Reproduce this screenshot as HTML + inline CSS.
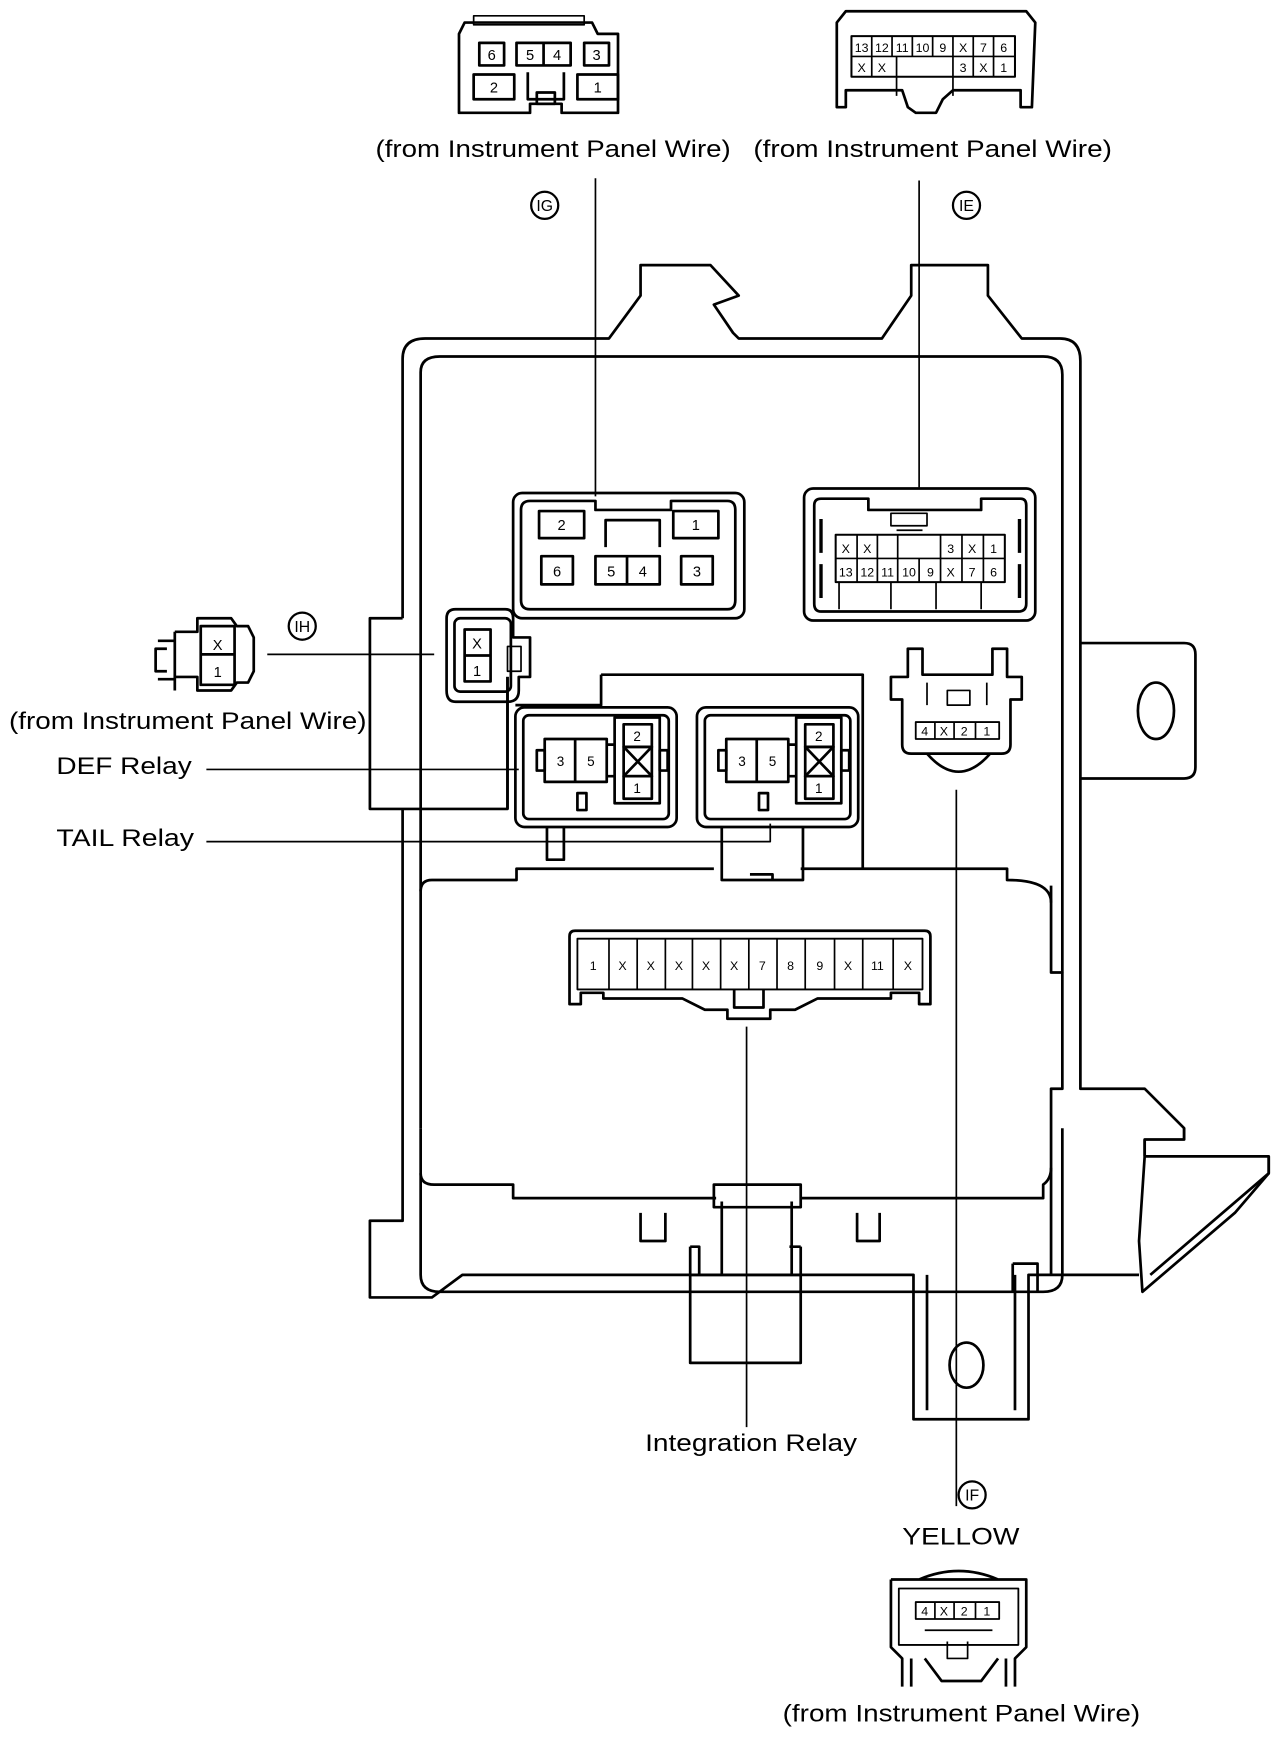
<!DOCTYPE html>
<html><head><meta charset="utf-8"><style>html,body{margin:0;padding:0;background:#fff}svg{display:block}</style></head>
<body>
<svg width="1280" height="1760" viewBox="0 0 1135 1560" preserveAspectRatio="none" xmlns="http://www.w3.org/2000/svg" font-family="Liberation Sans, Arial, sans-serif">
<g fill="none" stroke="#000" stroke-width="2.4" stroke-linejoin="round">
<path d="M407,30 L412,20 L525,20 L530,30 L548,30 L548,100 L498,100 L498,92 L470,92 L470,100 L407,100 Z"/>
<rect x="420" y="14" width="98" height="8" stroke-width="1.5"/>
<rect x="425" y="38" width="22" height="20"/><rect x="458" y="38" width="48" height="20"/><line x1="482" y1="38" x2="482" y2="58"/>
<rect x="518" y="38" width="22" height="20"/>
<rect x="420" y="66" width="36" height="22"/><rect x="512" y="66" width="36" height="22"/>
<path d="M468,64 V88 H500 V64"/><rect x="476" y="82" width="16" height="10"/>
<path d="M742,20 L742,95 L750,95 L750,80 L800,80 L805,95 L812,100 L830,100 L836,88 L845,80 L905,80 L905,95 L915,95 L918,20 L910,10 L750,10 Z"/>
<rect x="755" y="32" width="145" height="36" stroke-width="1.8"/>
<line x1="755" y1="50" x2="900" y2="50" stroke-width="1.5"/>
<path d="M773,32V68 M791,32V50 M809,32V50 M827,32V50 M845,32V50 M863,32V68 M881,32V68" stroke-width="1.5"/>
<path d="M795,50 V85 M845,50 V85" stroke-width="1.5"/>
<line x1="528" y1="158" x2="528" y2="440" stroke-width="1.5"/>
<line x1="815" y1="160" x2="815" y2="432" stroke-width="1.5"/>
<circle cx="483" cy="182" r="12" stroke-width="2"/><circle cx="857" cy="182" r="12" stroke-width="2"/>
<path d="M357,548 L357,318 Q357,300 377,300 L540,300 L568,262 L568,235 L630,235 L655,262 L633,270 L650,295 L655,300 L782,300 L808,262 L808,235 L876,235 L876,262 L906,300 L940,300 Q958,300 958,320 L958,965 L1015,965 L1050,1000 L1050,1010 L1015,1010 L1015,1025 L1125,1025 L1125,1040 L1095,1075 L1013,1145 L1010,1100 L1015,1025"/>
<path d="M1015,1010 V1025 M1125,1025 V1040 L1020,1130 M1050,1000 V1010"/>
<path d="M958,570 H1050 Q1060,570 1060,580 V680 Q1060,690 1050,690 H958"/>
<ellipse cx="1025" cy="630" rx="16" ry="25"/>
<path d="M357,548 H328 V717 H450 V600"/>
<path d="M357,717 V1082 H328 V1150 H383 L410,1130 H810 V1258 H912 V1130 H1010"/>
<path d="M822,1130 V1250 M900,1130 V1250"/>
<ellipse cx="857" cy="1210" rx="15" ry="20"/>
<path d="M373,1000 V330 Q373,316 390,316 H925 Q942,316 942,332 V862 H932 V785"/>
<path d="M373,1000 V1130 Q373,1145 390,1145 H925 Q942,1145 942,1130 V1000 M942,862 V965 H932 V1130"/>
<path d="M373,790 Q373,780 383,780 H458 V770 H633 M710,770 H893 V780 Q932,780 932,800"/>
<path d="M373,1040 Q373,1050 385,1050 H455 V1062 H635 M710,1062 H925 V1050 Q932,1045 932,1035"/>
<path d="M568,1075 V1100 H590 V1075 M760,1075 V1100 H780 V1075 M898,1120 H920 V1145 M898,1120 V1145"/>
<rect x="633" y="1050" width="77" height="20"/>
<path d="M640,1065 V1130 M702,1065 V1130 M612,1105 V1208 H710 V1105 M612,1130 H710 M612,1105 H620 V1130 M700,1105 H710"/>
<rect x="455" y="437" width="205" height="111" rx="8"/>
<path d="M462,452 Q462,444 470,444 H528 V452 H595 V444 H645 Q652,444 652,452 V532 Q652,540 645,540 H470 Q462,540 462,532 Z"/>
<rect x="478" y="453" width="40" height="24"/><rect x="597" y="453" width="40" height="24"/>
<path d="M537,485 V461 H585 V485"/>
<rect x="480" y="493" width="28" height="25"/><rect x="528" y="493" width="57" height="25"/><line x1="556" y1="493" x2="556" y2="518"/>
<rect x="604" y="493" width="28" height="25"/>
<rect x="713" y="433" width="205" height="117" rx="8"/>
<path d="M722,448 Q722,442 728,442 H770 V452 H870 V442 H905 Q910,442 910,448 V535 Q910,542 903,542 H728 Q722,542 722,535 Z"/>
<rect x="741" y="474" width="150" height="42" stroke-width="1.8"/>
<line x1="741" y1="495" x2="891" y2="495" stroke-width="1.5"/>
<path d="M760,474V516 M778,474V516 M796,495V516 M815,495V516 M834,495V516 M853,474V516 M872,474V516 M796,474V495 M834,474V495" stroke-width="1.5"/>
<path d="M790,455 H822 V466 H790 Z M795,470 H818" stroke-width="1.5"/>
<path d="M728,460 V490 M904,460 V490 M728,500 V530 M904,500 V530" stroke-width="3"/>
<path d="M744,516 V540 M790,516 V540 M830,516 V540 M870,516 V540" stroke-width="1.5"/>
<path d="M396,548 Q396,540 404,540 H448 Q455,540 455,548 V565 H470 V600 H460 V612 Q460,622 450,622 H404 Q396,622 396,612 Z"/>
<rect x="403" y="548" width="50" height="65" rx="5"/>
<rect x="412" y="558" width="23" height="46"/><line x1="412" y1="581" x2="435" y2="581"/>
<rect x="450" y="573" width="12" height="22" stroke-width="1.5"/>
<path d="M148,575 H138 V595 H148 M155,568 H140 M155,602 H140 M155,560 V612 M155,560 H175 V548 H205 L210,555 H220 L225,565 V595 L220,605 H210 L205,612 H175 V600 H155"/>
<rect x="178" y="555" width="30" height="52"/><line x1="178" y1="580" x2="208" y2="580"/>
<line x1="237" y1="580" x2="385" y2="580" stroke-width="1.5"/>
<circle cx="268" cy="555" r="12" stroke-width="2"/>
<path d="M450,600 V717 M533,598 H765 V770 M533,598 V625 H457"/>
<g id="relay">
<rect x="457" y="627" width="143" height="106" rx="8"/>
<rect x="464" y="634" width="129" height="92" rx="5"/>
<rect x="483" y="655" width="55" height="38"/><line x1="510" y1="655" x2="510" y2="693"/>
<rect x="476" y="665" width="7" height="18"/><rect x="585" y="665" width="7" height="18"/>
<path d="M538,660 H545 M538,688 H545"/>
<rect x="545" y="636" width="40" height="76"/><rect x="553" y="642" width="25" height="20"/><rect x="553" y="688" width="25" height="20"/>
<rect x="553" y="662" width="25" height="26"/>
<path d="M553,662 L578,688 M578,662 L553,688"/>
<rect x="512" y="703" width="8" height="15"/>
</g>
<use href="#relay" transform="translate(161,0)"/>
<path d="M485,733 V762 H500 V733 M640,733 V780 H712 V733 M665,775 H685 V780"/>
<line x1="183" y1="682" x2="460" y2="682" stroke-width="1.5"/>
<path d="M183,746 H683 V730" stroke-width="1.5"/>
<path d="M805,575 H818 V598 H880 V575 H893 V600 H906 V620 H896 V660 Q896,668 888,668 H808 Q800,668 800,660 V620 H790 V600 H805 Z"/>
<path d="M822,668 Q850,700 878,668"/>
<rect x="812" y="640" width="74" height="15" stroke-width="1.6"/>
<path d="M829,640V655 M846,640V655 M865,640V655" stroke-width="1.5"/>
<path d="M840,612 H860 V625 H840 Z M822,605 V625 M875,605 V625" stroke-width="1.5"/>
<line x1="848" y1="700" x2="848" y2="1335" stroke-width="1.5"/>
<circle cx="862" cy="1325" r="12" stroke-width="2"/>
<path d="M505,830 Q505,825 510,825 H820 Q825,825 825,830 V890 H815 V880 H790 V885 H725 L705,895 H683 V903 H645 V895 H625 L605,885 H535 V880 H515 V890 H505 Z"/>
<rect x="512" y="832" width="306" height="45" stroke-width="1.6"/>
<path d="M540,832V877 M565,832V877 M590,832V877 M614,832V877 M639,832V877 M664,832V877 M689,832V877 M714,832V877 M740,832V877 M765,832V877 M792,832V877" stroke-width="1.5"/>
<path d="M651,877 V893 H677 V877"/>
<line x1="662" y1="910" x2="662" y2="1265" stroke-width="1.5"/>
<path d="M815,1400 Q850,1385 885,1400 M790,1400 H910 V1460 L900,1470 V1495 M790,1400 V1460 L800,1470 V1495 M808,1470 V1495 M892,1470 V1495 M820,1470 L835,1490 H870 L885,1470"/>
<rect x="797" y="1408" width="106" height="50" stroke-width="1.6"/>
<rect x="812" y="1420" width="74" height="15" stroke-width="1.6"/>
<path d="M829,1420V1435 M846,1420V1435 M865,1420V1435" stroke-width="1.5"/>
<path d="M820,1445 H880 M840,1455 V1470 H858 V1455" stroke-width="1.5"/>
</g>
<g font-size="13" text-anchor="middle" fill="#000">
<text x="436" y="53">6</text><text x="470" y="53">5</text><text x="494" y="53">4</text><text x="529" y="53">3</text>
<text x="438" y="82">2</text><text x="530" y="82">1</text>
<g font-size="11"><text x="764" y="46">13</text><text x="782" y="46">12</text><text x="800" y="46">11</text><text x="818" y="46">10</text><text x="836" y="46">9</text><text x="854" y="46">X</text><text x="872" y="46">7</text><text x="890" y="46">6</text>
<text x="764" y="64">X</text><text x="782" y="64">X</text><text x="854" y="64">3</text><text x="872" y="64">X</text><text x="890" y="64">1</text>
<text x="750" y="490">X</text><text x="769" y="490">X</text><text x="843" y="490">3</text><text x="862" y="490">X</text><text x="881" y="490">1</text>
<text x="750" y="511">13</text><text x="769" y="511">12</text><text x="787" y="511">11</text><text x="806" y="511">10</text><text x="825" y="511">9</text><text x="843" y="511">X</text><text x="862" y="511">7</text><text x="881" y="511">6</text>
<text x="820" y="652">4</text><text x="837" y="652">X</text><text x="855" y="652">2</text><text x="875" y="652">1</text>
<text x="820" y="1432">4</text><text x="837" y="1432">X</text><text x="855" y="1432">2</text><text x="875" y="1432">1</text>
<text x="526" y="860">1</text><text x="552" y="860">X</text><text x="577" y="860">X</text><text x="602" y="860">X</text><text x="626" y="860">X</text><text x="651" y="860">X</text><text x="676" y="860">7</text><text x="701" y="860">8</text><text x="727" y="860">9</text><text x="752" y="860">X</text><text x="778" y="860">11</text><text x="805" y="860">X</text>
</g>
<text x="498" y="470">2</text><text x="617" y="470">1</text>
<text x="494" y="511">6</text><text x="542" y="511">5</text><text x="570" y="511">4</text><text x="618" y="511">3</text>
<text x="423" y="575">X</text><text x="423" y="599">1</text>
<text x="193" y="576">X</text><text x="193" y="600">1</text>
<g font-size="12"><text x="497" y="679">3</text><text x="524" y="679">5</text><text x="565" y="657">2</text><text x="565" y="703">1</text>
<text x="658" y="679">3</text><text x="685" y="679">5</text><text x="726" y="657">2</text><text x="726" y="703">1</text></g>
<g font-size="14"><text x="483" y="187">IG</text><text x="857" y="187">IE</text><text x="268" y="560">IH</text><text x="862" y="1330">IF</text></g>
</g>
<g font-size="21" fill="#000">
<text x="333" y="139" textLength="315" lengthAdjust="spacingAndGlyphs">(from Instrument Panel Wire)</text>
<text x="668" y="139" textLength="318" lengthAdjust="spacingAndGlyphs">(from Instrument Panel Wire)</text>
<text x="8" y="646" textLength="317" lengthAdjust="spacingAndGlyphs">(from Instrument Panel Wire)</text>
<text x="50" y="686" textLength="120" lengthAdjust="spacingAndGlyphs">DEF Relay</text>
<text x="50" y="750" textLength="122" lengthAdjust="spacingAndGlyphs">TAIL Relay</text>
<text x="572" y="1286" textLength="188" lengthAdjust="spacingAndGlyphs">Integration Relay</text>
<text x="800" y="1369" textLength="104" lengthAdjust="spacingAndGlyphs">YELLOW</text>
<text x="694" y="1526" textLength="317" lengthAdjust="spacingAndGlyphs">(from Instrument Panel Wire)</text>
</g>
</svg>
</body></html>
